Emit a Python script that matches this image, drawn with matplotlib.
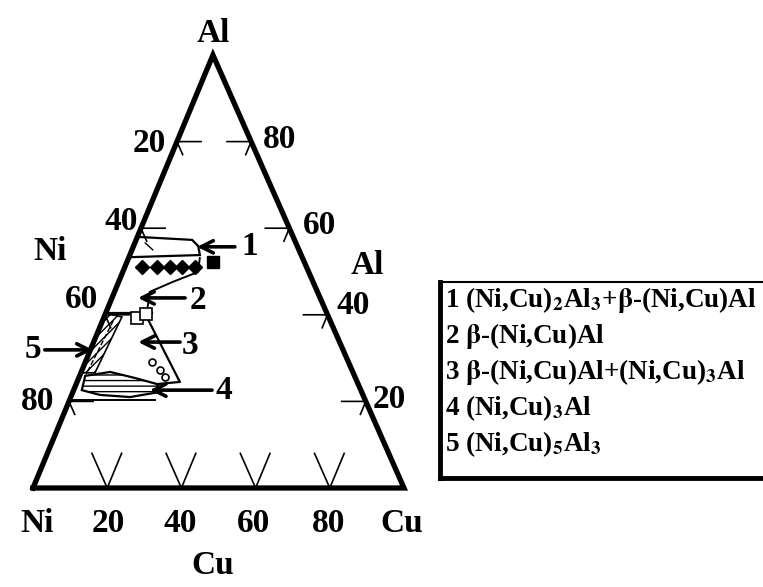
import matplotlib.pyplot as plt
from matplotlib.patches import Polygon
from matplotlib.lines import Line2D

plt.rcParams['font.family'] = ['Liberation Serif', 'DejaVu Serif']
plt.rcParams['font.weight'] = 'bold'
plt.rcParams['mathtext.fontset'] = 'stix'

W, H = 763, 587
APEX = 0.485  # horizontal position of the Al corner along the base

# composition grid (at.%)
ticks = [20, 40, 60, 80]
base_labels = ['Ni', '20', '40', '60', '80', 'Cu']

# phase regions, (Cu, Al) in at.%
reg1_cu = [0, 15.1, 17.4, 18.9, 0]
reg1_al = [58.0, 57.3, 55.9, 53.8, 53.3]
reg1_inner_cu = [2.8, 5.6]
reg1_inner_al = [56.6, 55.0]

reg2_cu = [19.2, 20.3, 14.6, 9.5, 11.0]
reg2_al = [53.1, 49.9, 47.6, 45.3, 40.6]

reg3_top_cu = [0, 12.5]
reg3_top_al = [40.4, 40.4]
reg3_side_cu = [11.5, 27.7, 21.8]
reg3_side_al = [39.5, 24.5, 24.0]

reg5_cu = [0, 4.8, 3.8, 0]
reg5_al = [40.4, 39.5, 26.6, 26.6]
reg5_line_cu = [2.9, 1.6]
reg5_line_al = [38.6, 26.2]

reg4_cu = [1.5, 7.8, 15.2, 21.8, 23.5, 16.0, 7.6, 2.2]
reg4_al = [25.9, 26.8, 25.4, 24.0, 22.2, 21.0, 21.5, 22.6]
reg4_low_cu = [0, 23.0]
reg4_low_al = [20.3, 20.3]

# alloy compositions
dots_cu = [4.7, 8.7, 12.2, 15.4, 19.0]
dots_al = [51.0, 51.0, 51.0, 51.0, 51.0]
sq_filled_cu = [23.2]
sq_filled_al = [52.2]
sq_open_cu = [9.0, 11.0]
sq_open_al = [39.3, 40.2]
circ_open_cu = [18.0, 21.0, 23.2]
circ_open_al = [29.1, 27.3, 25.6]

legend_rows = [
    r'1 (Ni,Cu)$_\mathbf{2}$Al$_\mathbf{3}$+$\mathbf{\beta}$-(Ni,Cu)Al',
    r'2 $\mathbf{\beta}$-(Ni,Cu)Al',
    r'3 $\mathbf{\beta}$-(Ni,Cu)Al+(Ni,Cu)$_\mathbf{3}$Al',
    r'4 (Ni,Cu)$_\mathbf{3}$Al',
    r'5 (Ni,Cu)$_\mathbf{5}$Al$_\mathbf{3}$',
]


def tern(cu, al):
    cu = [c / 100 for c in cu]
    al = [a / 100 for a in al]
    return [c + APEX * a for c, a in zip(cu, al)], al


def px(x, y):
    return x / W, 1 - y / H


fig = plt.figure(figsize=(W / 100, H / 100), dpi=100)
ax = fig.add_axes([33 / W, (H - 488) / H, 371 / W, 433 / H])
ax.set_xlim(0, 1)
ax.set_ylim(0, 1)
ax.axis('off')

# frame
x, y = tern([0, 100, 0, 0], [0, 0, 100, 0])
ax.plot(x, y, color='k', lw=3.8, solid_joinstyle='miter', clip_on=False, zorder=5)

# V ticks on Cu axis, arms parallel to the side edges
for c in ticks:
    x, y = tern([c - 8, c, c], [8, 0, 8])
    ax.plot(x, y, color='k', lw=1.2)
# ticks on the Ni side and on the Al side
for a in ticks:
    x, y = tern([6.5, 0, 3], [a, a, a - 3])
    ax.plot(x, y, color='k', lw=1.2)
    x, y = tern([100 - a - 6.5, 100 - a, 100 - a], [a, a, a - 3])
    ax.plot(x, y, color='k', lw=1.2)

# phase fields
x, y = tern(reg1_cu, reg1_al)
ax.add_patch(Polygon(list(zip(x, y)), closed=True, fill=False, lw=1.6))
x, y = tern(reg1_inner_cu, reg1_inner_al)
ax.plot(x, y, color='k', lw=1)
x, y = tern(reg2_cu, reg2_al)
ax.plot(x, y, color='k', lw=1.4)
x, y = tern(reg3_top_cu, reg3_top_al)
ax.plot(x, y, color='k', lw=1.6)
x, y = tern(reg3_side_cu, reg3_side_al)
ax.plot(x, y, color='k', lw=1.6)
x, y = tern(reg5_cu, reg5_al)
ax.add_patch(Polygon(list(zip(x, y)), closed=True, fill=False, lw=1.2, hatch='////'))
x, y = tern(reg5_line_cu, reg5_line_al)
ax.plot(x, y, color='k', lw=1, ls='--')
x, y = tern(reg4_cu, reg4_al)
ax.add_patch(Polygon(list(zip(x, y)), closed=True, fill=False, lw=1.6, hatch='---'))
x, y = tern(reg4_low_cu, reg4_low_al)
ax.plot(x, y, color='k', lw=1.4)

# alloys
x, y = tern(dots_cu, dots_al)
ax.plot(x, y, 'D', color='k', ms=7)
x, y = tern(sq_filled_cu, sq_filled_al)
ax.plot(x, y, 's', color='k', ms=9)
x, y = tern(sq_open_cu, sq_open_al)
ax.plot(x, y, 's', mfc='white', mec='k', mew=1.2, ms=8)
x, y = tern(circ_open_cu, circ_open_al)
ax.plot(x, y, 'o', mfc='white', mec='k', mew=1.2, ms=5)

# numbered arrows: (head Cu, head Al), (tail Cu, tail Al), label position
arrows = [
    ('1', (17.2, 55.7), (27.4, 55.7), (31.5, 55.7)),
    ('2', (7.0, 43.9), (19.7, 43.9), (23.3, 43.4)),
    ('3', (12.0, 33.7), (23.3, 33.7), (26.3, 33.0)),
    ('4', (20.5, 22.6), (37.3, 22.6), (40.5, 22.6)),
    ('5', (0.7, 31.9), (-12.3, 31.9), (-15.5, 31.9)),
]
for lab, head, tail, pos in arrows:
    hx, hy = tern([head[0]], [head[1]])
    tx, ty = tern([tail[0]], [tail[1]])
    ax.annotate('', xy=(hx[0], hy[0]), xytext=(tx[0], ty[0]),
                arrowprops=dict(arrowstyle='->', lw=2.6, color='k',
                                mutation_scale=22, shrinkA=0, shrinkB=0))
    lx, ly = tern([pos[0]], [pos[1]])
    ax.text(lx[0], ly[0], lab, fontsize=24, ha='center', va='center')

# axis texts
fs = 24
fig.text(*px(213, 33), 'Al', fontsize=fs, ha='center', va='center')
fig.text(*px(50, 252), 'Ni', fontsize=fs, ha='center', va='center')
fig.text(*px(367, 265), 'Al', fontsize=fs, ha='center', va='center')
fig.text(*px(213, 565), 'Cu', fontsize=fs, ha='center', va='center')
for lab, xp in zip(base_labels, [37, 108, 180, 254, 329, 402]):
    fig.text(*px(xp, 523), lab, fontsize=fs, ha='center', va='center')
for lab, (xp, yp) in zip([str(t) for t in ticks],
                         [(149, 143), (121, 221), (82, 300), (38, 402)]):
    fig.text(*px(xp, yp), lab, fontsize=fs, ha='center', va='center')
for lab, (xp, yp) in zip([str(100 - t) for t in ticks],
                         [(280, 140), (319, 225), (353, 305), (389, 400)]):
    fig.text(*px(xp, yp), lab, fontsize=fs, ha='center', va='center')

# legend box: heavy left and bottom rules, light top rule
for (x0, y0), (x1, y1), lw in [((440, 282), (440, 478), 3.5),
                               ((440, 478), (770, 478), 3.5),
                               ((440, 282), (770, 282), 1.5)]:
    (fx0, fy0), (fx1, fy1) = px(x0, y0), px(x1, y1)
    fig.add_artist(Line2D([fx0, fx1], [fy0, fy1], transform=fig.transFigure,
                          color='k', lw=lw, solid_capstyle='projecting'))
for i, row in enumerate(legend_rows):
    fig.text(*px(445, 300 + 36 * i), row, fontsize=19.5,
             ha='left', va='center')

fig.savefig('out.png', dpi=100)
